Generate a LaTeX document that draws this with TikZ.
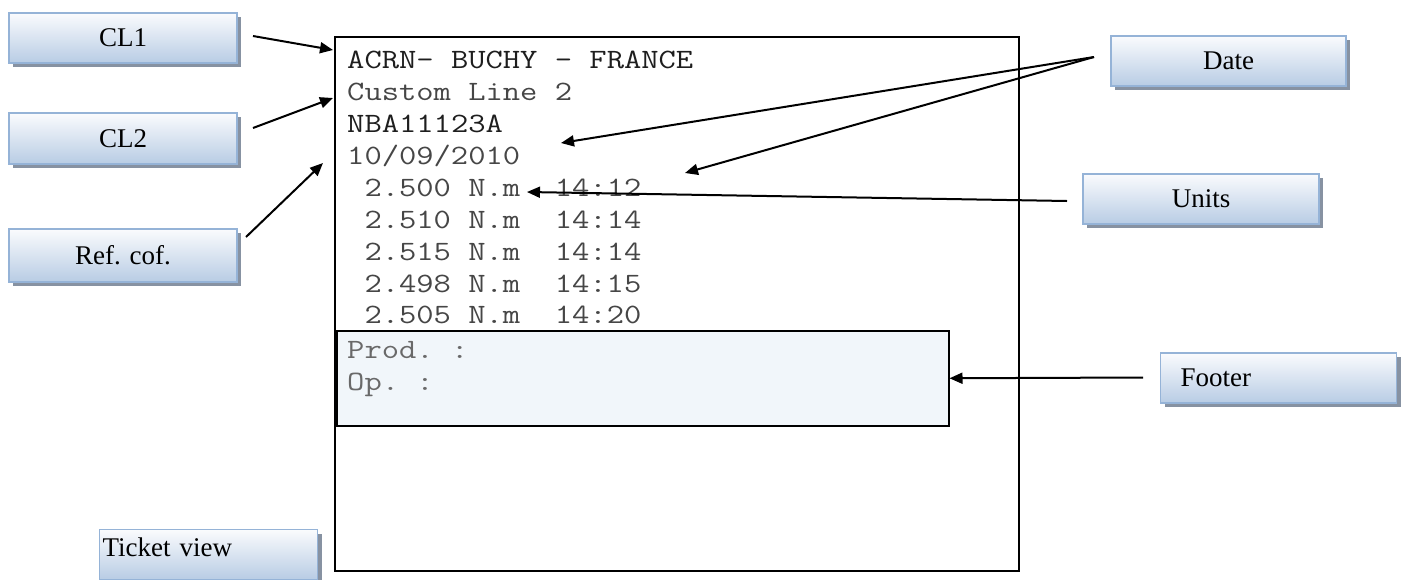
\documentclass[tikz,border=0pt]{standalone}
\usepackage{fontspec}
\setmainfont{Liberation Serif}
\setmonofont{Latin Modern Mono}[FakeStretch=1.2]
\usetikzlibrary{arrows.meta,shadows}

\definecolor{ticketcolor0000}{RGB}{250,251,253}
\definecolor{ticketcolor0001}{RGB}{184,204,228}
\definecolor{ticketcolor0002}{RGB}{149,179,215}
\definecolor{ticketcolor0003}{RGB}{135,146,162}
\definecolor{ticketcolor0004}{RGB}{241,246,250}
\definecolor{ticketcolor0005}{RGB}{30,30,30}
\definecolor{ticketcolor0006}{RGB}{70,70,70}
\definecolor{ticketcolor0007}{RGB}{105,105,105}

\begin{document}
\begin{tikzpicture}[
  yscale = -1,
  tstyle0/.style = {draw=ticketcolor0002,line width=1.2pt,top color=ticketcolor0000,bottom color=ticketcolor0001,drop shadow={shadow xshift=4pt,shadow yshift=-4pt,fill=ticketcolor0003,opacity=1},inner sep=0pt,font=\fontsize{27pt}{30pt}\selectfont},
  tstyle1/.style = {draw=black,line width=1.5pt,inner sep=0pt},
  tstyle2/.style = {draw=black,fill=ticketcolor0004,line width=1.5pt,inner sep=0pt},
  tstyle3/.style = {color=black,line width=2pt,-{Triangle[length=13pt,width=11pt]}},
  tstyle4/.style = {anchor=base west,inner sep=0pt,font=\ttfamily\fontsize{28pt}{32pt}\selectfont},
]
  \useasboundingbox (0pt,0pt) rectangle (1401pt,579pt);
  % label boxes
  \node[tstyle0,minimum width=228pt,minimum height=50pt] (cl1) at (123pt,38pt) {CL1};
  \node[tstyle0,minimum width=228pt,minimum height=51pt] (cl2) at (123pt,138.5pt) {CL2};
  \node[tstyle0,minimum width=228pt,minimum height=53pt] (refcof) at (123pt,255.5pt) {Ref. cof.};
  \node[tstyle0,minimum width=235pt,minimum height=50pt] (date) at (1228.5pt,61pt) {Date};
  \node[tstyle0,minimum width=236pt,minimum height=50pt] (units) at (1201pt,199pt) {Units};
  \node[tstyle0,minimum height=50pt,text width=196pt,inner xsep=20pt,align=left,anchor=west] (footer) at (1160pt,378pt) {Footer};
  \node[tstyle0,minimum height=50pt,text width=212pt,inner xsep=3pt,align=left,text height=19pt,text depth=16pt,anchor=north west] (ticketview) at (99pt,529pt) {Ticket view};
  % ticket
  \node[tstyle1,minimum width=684pt,minimum height=534pt,anchor=north west] (ticket) at (334pt,36pt) {};
  \node[tstyle2,minimum width=612pt,minimum height=95pt,anchor=north west] (footbox) at (336pt,330pt) {};
  \node[tstyle4,color=ticketcolor0005] (line1) at (347pt,68pt) {ACRN- BUCHY - FRANCE};
  \node[tstyle4,color=ticketcolor0006] (line2) at (347pt,100pt) {Custom Line 2};
  \node[tstyle4,color=ticketcolor0005] (line3) at (347pt,132pt) {NBA11123A};
  \node[tstyle4,color=ticketcolor0006] (line4) at (347pt,164pt) {10/09/2010};
  \node[tstyle4,color=ticketcolor0006] (line5) at (347pt,196pt) {\ 2.500 N.m\ \ 14:12};
  \node[tstyle4,color=ticketcolor0006] (line6) at (347pt,228pt) {\ 2.510 N.m\ \ 14:14};
  \node[tstyle4,color=ticketcolor0006] (line7) at (347pt,260pt) {\ 2.515 N.m\ \ 14:14};
  \node[tstyle4,color=ticketcolor0006] (line8) at (347pt,292pt) {\ 2.498 N.m\ \ 14:15};
  \node[tstyle4,color=ticketcolor0006] (line9) at (347pt,323pt) {\ 2.505 N.m\ \ 14:20};
  \node[tstyle4,color=ticketcolor0007] (prod) at (347pt,358pt) {Prod. :};
  \node[tstyle4,color=ticketcolor0007] (op) at (347pt,390pt) {Op. :};
  % arrow ends
  \coordinate (cl1 tail) at (253pt,36pt);
  \coordinate (cl1 tip) at (333pt,50pt);
  \coordinate (cl2 tail) at (253pt,128pt);
  \coordinate (cl2 tip) at (333pt,98pt);
  \coordinate (refcof tail) at (246pt,237pt);
  \coordinate (refcof tip) at (323pt,163pt);
  \coordinate (date tail) at (1094pt,57pt);
  \coordinate (date tip1) at (561pt,143pt);
  \coordinate (date tip2) at (685pt,173pt);
  \coordinate (units tail) at (1067pt,201pt);
  \coordinate (units tip) at (527pt,192pt);
  \coordinate (footer tail) at (1143pt,377.5pt);
  % arrows
  \draw[tstyle3] (cl1 tail) -- (cl1 tip);
  \draw[tstyle3] (cl2 tail) -- (cl2 tip);
  \draw[tstyle3] (refcof tail) -- (refcof tip);
  \draw[tstyle3] (date tail) -- (date tip1);
  \draw[tstyle3] (date tail) -- (date tip2);
  \draw[tstyle3] (units tail) -- (units tip);
  \draw[tstyle3] (footer tail) -- (footbox.east);
\end{tikzpicture}
\end{document}
